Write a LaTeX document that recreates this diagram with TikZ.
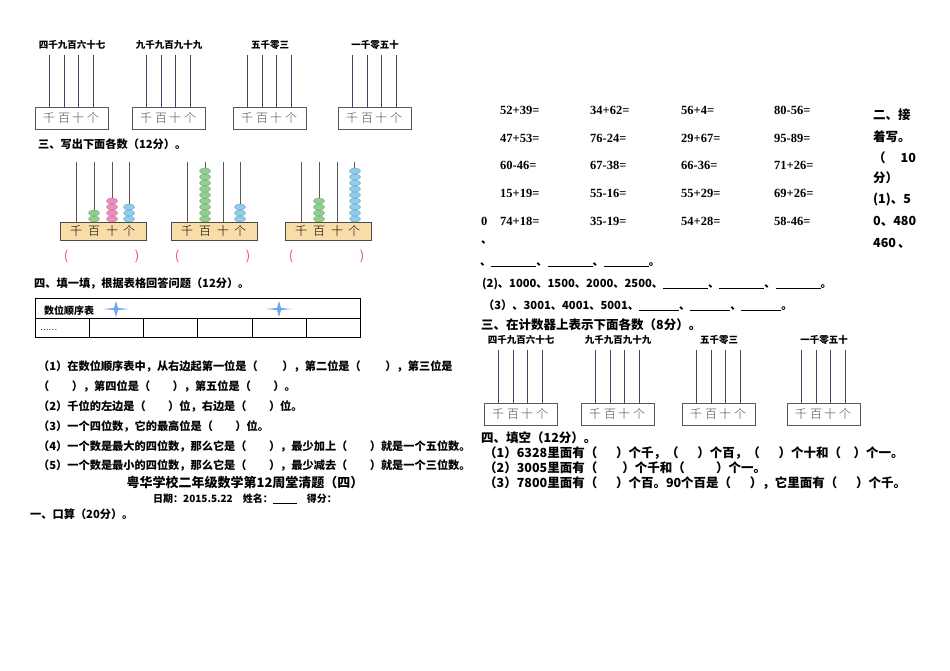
\documentclass[tikz,border=0pt]{standalone}
\usepackage{fontspec}
\setmainfont{Noto Sans CJK SC}
\newfontfamily\numf{Liberation Serif}[BoldFont={Liberation Serif Bold}]
\newfontfamily\lightf{Noto Sans CJK SC Light}
\definecolor{rod}{HTML}{3A4660}
\definecolor{gb}{HTML}{8FD08F}
\definecolor{pb}{HTML}{F08CC0}
\definecolor{bb}{HTML}{8CCFF0}
\definecolor{fr}{HTML}{F9DDA8}
\definecolor{mag}{HTML}{D050A0}
\tikzset{
  txt/.style={anchor=west,inner sep=0pt,font=\fontsize{11.2}{12}\selectfont\bfseries},
  big/.style={anchor=west,inner sep=0pt,font=\fontsize{12.5}{13}\selectfont\bfseries},
  eq/.style={anchor=west,inner sep=0pt,font=\fontsize{12.5}{13}\selectfont\numf\bfseries},
  lab/.style={inner sep=0pt,font=\fontsize{9.5}{10}\selectfont\bfseries},
  pf/.style={draw=gray!70!black,line width=0.8pt,fill=white},
  ch/.style={inner sep=0pt,font=\fontsize{12}{12}\selectfont\lightf,text=gray!60!black},
}
\newcommand\plainab[4]{% x, rod top, box top, label
  \node[lab] at (#1+37,#2-10) {#4};
  \foreach \r in {14,29,43,58} \draw[rod,line width=1pt] (#1+\r,#2) -- (#1+\r,#3);
  \draw[pf] (#1,#3) rectangle (#1+73,#3+22);
  \foreach \r/\c in {14/千,29/百,43/十,58/个} \node[ch] at (#1+\r,#3+11) {\c};
}
\newcommand\beads[4]{% x, boxtop, n, color
  \foreach \k in {1,...,#3} \draw[fill=#4,draw=#4!70!black,line width=0.3pt] (#1,#2-6*\k+3) ellipse (5.5pt and 3pt);
}
\newcommand\colab[2]{% x, rodtop
  \foreach \r in {16,34,52,69} \draw[gray!70!black,line width=0.8pt] (#1+\r,#2) -- (#1+\r,222);
  \draw[fill=fr,draw=gray!60!black,line width=0.8pt] (#1,222) rectangle (#1+86,240);
  \foreach \r/\c in {16/千,34/百,52/十,69/个} \node[inner sep=0pt,font=\fontsize{12}{12}\selectfont\lightf] at (#1+\r,231) {\c};
  \node[text=mag,font=\fontsize{13}{13}\selectfont] at (#1+6,256) {(};
  \node[text=mag,font=\fontsize{13}{13}\selectfont] at (#1+77,256) {)};
}
\begin{document}
\begin{tikzpicture}[x=1pt,y=-1pt]
\useasboundingbox[fill=white] (0,0) rectangle (950,671);
% left top abacuses
\plainab{35}{55}{107}{四千九百六十七}
\plainab{132}{55}{107}{九千九百九十九}
\plainab{233}{55}{107}{五千零三}
\plainab{338}{55}{107}{一千零五十}
\node[txt] at (38,144) {三、写出下面各数（12分）。};
\colab{60}{162}\colab{171}{162}\colab{285}{162}
\beads{94}{222}{2}{gb}\beads{112}{222}{4}{pb}\beads{129}{222}{3}{bb}
\beads{205}{222}{9}{gb}\beads{240}{222}{3}{bb}
\beads{319}{222}{4}{gb}\beads{355}{222}{9}{bb}
% section four
\node[txt] at (34,284) {四、填一填，根据表格回答问题（12分）。};
\draw[line width=0.6pt] (35,298) rectangle (360,337) (35,318) -- (360,318);
\foreach \c in {89,143,197,252,306} \draw[line width=0.6pt] (\c,318) -- (\c,337);
\node[txt,font=\fontsize{10}{10}\selectfont\bfseries] at (44,311) {数位顺序表};
\foreach \s in {116,279} \fill[bb!80!blue] (\s-13,309) -- (\s-2,308) -- (\s,301) -- (\s+2,308) -- (\s+13,309) -- (\s+2,310) -- (\s,317) -- (\s-2,310) -- cycle;
\node[txt,font=\fontsize{8}{8}\selectfont] at (40,330) {……};
\node[txt] at (38,366) {（1）在数位顺序表中，从右边起第一位是（\hspace{2.2em}），第二位是（\hspace{2.2em}），第三位是};
\node[txt] at (38,386) {（\hspace{2em}），第四位是（\hspace{2em}），第五位是（\hspace{2em}）。};
\node[txt] at (38,406) {（2）千位的左边是（\hspace{2em}）位，右边是（\hspace{2em}）位。};
\node[txt] at (38,426) {（3）一个四位数，它的最高位是（\hspace{2em}）位。};
\node[txt] at (38,446) {（4）一个数是最大的四位数，那么它是（\hspace{2em}），最少加上（\hspace{2em}）就是一个五位数。};
\node[txt] at (38,465) {（5）一个数是最小的四位数，那么它是（\hspace{2em}），最少减去（\hspace{2em}）就是一个三位数。};
\node[inner sep=0pt,font=\fontsize{13}{13}\selectfont\bfseries] at (245,483) {粤华学校二年级数学第12周堂清题（四）};
\node[inner sep=0pt,font=\fontsize{10}{10}\selectfont\bfseries] at (245,499) {日期：2015.5.22\quad 姓名：\rule[-1pt]{24pt}{0.6pt}\quad 得分：};
\node[txt] at (30,514) {一、口算（20分）。};
% right column
\foreach \y/\a/\b/\c/\d in {110/52+39=/34+62=/56+4=/80-56=,138/47+53=/76-24=/29+67=/95-89=,165/60-46=/67-38=/66-36=/71+26=,193/15+19=/55-16=/55+29=/69+26=,221/74+18=/35-19=/54+28=/58-46=}{
  \node[eq] at (500,\y) {\a};\node[eq] at (590,\y) {\b};\node[eq] at (681,\y) {\c};\node[eq] at (774,\y) {\d};}
\node[eq] at (481,221) {0};
\node[txt] at (481,243) {、};
\node[big] at (873,115) {二、接};
\node[big] at (873,137) {着写。};
\node[big] at (873,158) {（\hspace{1.2em}10};
\node[big] at (873,178) {分）};
\node[big] at (873,200) {(1)、5};
\node[big] at (873,221) {0、480};
\node[big] at (873,243) {460\,、};
\node[txt] at (480,265) {、\rule[-1pt]{45pt}{0.6pt}、\rule[-1pt]{45pt}{0.6pt}、\rule[-1pt]{45pt}{0.6pt}。};
\node[txt] at (482,284) {(2)、1000、1500、2000、2500、\rule[-1pt]{45pt}{0.6pt}、\rule[-1pt]{45pt}{0.6pt}、\rule[-1pt]{45pt}{0.6pt}。};
\node[txt] at (483,305) {（3）、3001、4001、5001、\rule[-1pt]{40pt}{0.6pt}、\rule[-1pt]{40pt}{0.6pt}、\rule[-1pt]{40pt}{0.6pt}。};
\node[big] at (481,325) {三、在计数器上表示下面各数（8分）。};
\plainab{484}{350}{403}{四千九百六十七}
\plainab{581}{350}{403}{九千九百九十九}
\plainab{682}{350}{403}{五千零三}
\plainab{787}{350}{403}{一千零五十}
\node[big] at (481,438) {四、填空（12分）。};
\node[big] at (484,453) {（1）6328里面有（\hspace{1.5em}）个千，（\hspace{1.5em}）个百，（\hspace{1.5em}）个十和（\hspace{1em}）个一。};
\node[big] at (484,468) {（2）3005里面有（\hspace{2em}）个千和（\hspace{2.5em}）个一。};
\node[big] at (484,483) {（3）7800里面有（\hspace{1.5em}）个百。90个百是（\hspace{1.5em}），它里面有（\hspace{1.5em}）个千。};
\end{tikzpicture}
\end{document}
